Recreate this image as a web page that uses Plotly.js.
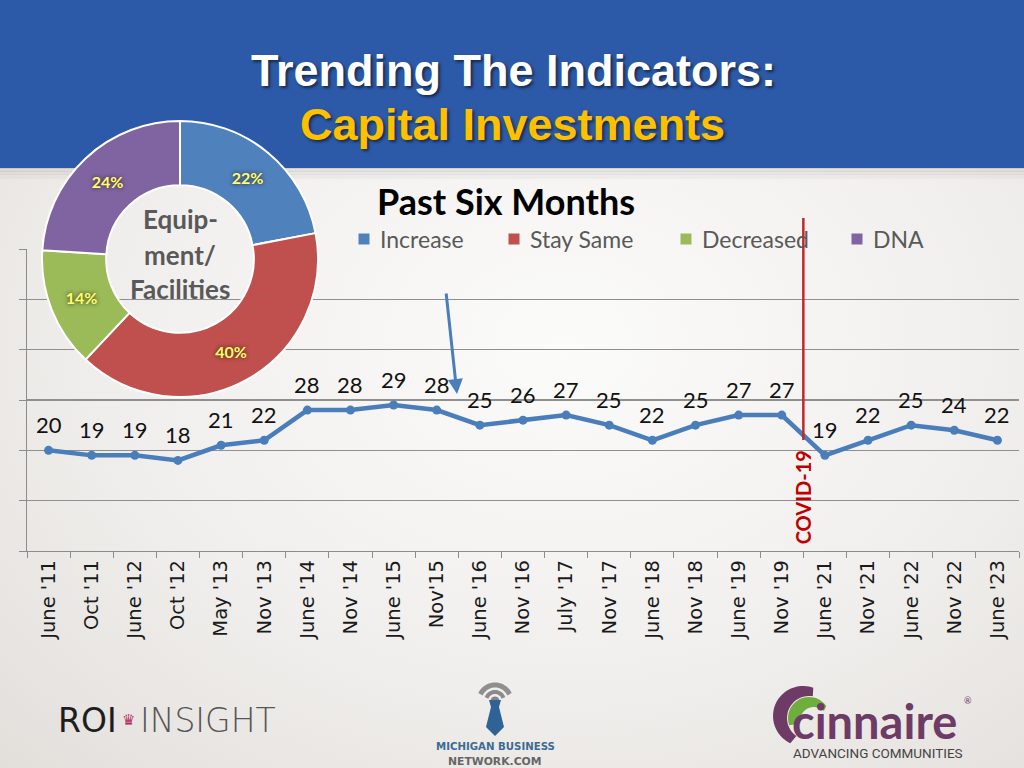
<!DOCTYPE html>
<html>
<head>
<meta charset="utf-8">
<script src="https://cdn.plot.ly/plotly-3.0.1.min.js"></script>
<style>
  html, body { margin:0; padding:0; width:1024px; height:768px; overflow:hidden;
    background: radial-gradient(ellipse at 55% 45%, #fbfbfa 0%, #f1efed 55%, #e2dfdb 100%); }
  #chart { width:1024px; height:768px; }
</style>
</head>
<body>
<div id="chart"></div>
<script>
// ---- Data ----
const periods = ["June '11","Oct '11","June '12","Oct '12","May '13","Nov '13","June '14","Nov '14","June '15","Nov'15",
  "June '16","Nov '16","July '17","Nov '17","June '18","Nov '18","June '19","Nov '19","June '21","Nov '21","June '22","Nov '22","June '23"];
const increaseValues = [20,19,19,18,21,22,28,28,29,28,25,26,27,25,22,25,27,27,19,22,25,24,22];

const pieLabels = ["Increase","Stay Same","Decreased","DNA"];
const pieValues = [22,40,14,24];
const pieColors = ["#4F81BD","#C0504D","#9BBB59","#8064A2"];
const pieCenterLines = ["Equip-","ment/","Facilities"];

const covidAfter = "Nov '19";

// ---- helpers (pixel -> paper) ----
const PX = x => x / 1024;
const PY = y => 1 - y / 768;
function pathPx(pts, close) {
  return pts.map((p, i) => (i ? 'L' : 'M') + PX(p[0]).toFixed(5) + ',' + PY(p[1]).toFixed(5)).join(' ') + (close ? ' Z' : '');
}
function arcPts(cx, cy, r, a0, a1, n) {
  const out = [];
  for (let i = 0; i <= n; i++) {
    const a = (a0 + (a1 - a0) * i / n) * Math.PI / 180;
    out.push([cx + r * Math.cos(a), cy - r * Math.sin(a)]);
  }
  return out;
}
function txt(text, px, py, font, extra) {
  return Object.assign({ text, x:PX(px), y:PY(py), xref:'paper', yref:'paper', xanchor:'center', yanchor:'middle',
    showarrow:false, font }, extra || {});
}

const lineTrace = {
  type: 'scatter',
  mode: 'lines+markers',
  x: periods,
  y: increaseValues,
  line: { color: '#4A7EBB', width: 4.5 },
  marker: { color: '#4A7EBB', size: 9 },
  cliponaxis: false,
  showlegend: false,
  hoverinfo: 'skip'
};

const pieTrace = {
  type: 'pie',
  labels: pieLabels,
  values: pieValues,
  marker: { colors: pieColors, line: { color: '#ffffff', width: 2 } },
  hole: 0.535,
  sort: false,
  direction: 'clockwise',
  rotation: 0,
  textinfo: 'percent',
  textposition: 'inside',
  insidetextorientation: 'horizontal',
  textfont: { family: 'Lato, "Open Sans", sans-serif', size: 16, color: '#FFFF66', weight: 'bold',
              shadow: '0px 0px 4px rgba(40,20,20,0.85)' },
  domain: { x: [PX(42), PX(318)], y: [PY(397), PY(121)] },
  showlegend: false,
  hoverinfo: 'skip'
};

const shapes = [];
// header band
shapes.push({ type:'rect', xref:'paper', yref:'paper', x0:0, x1:1, y0:PY(168), y1:1,
  fillcolor:'#2C5AA8', line:{width:0}, layer:'below' });
for (let i = 0; i < 8; i++) {
  shapes.push({ type:'rect', xref:'paper', yref:'paper', x0:0, x1:1, y0:PY(169 + i*1.5), y1:PY(168 + i*1.5),
    fillcolor:'rgba(120,115,110,' + (0.28 - i*0.033).toFixed(3) + ')', line:{width:0}, layer:'below' });
}
// COVID line
const covidIdx = periods.indexOf(covidAfter) + 0.5;
shapes.push({ type:'line', xref:'x', yref:'paper', x0:covidIdx, x1:covidIdx, y0:PY(440), y1:PY(218),
  line:{ color:'#C0282D', width:2.5 }, layer:'above' });

// Legend (manual, for the donut's categories)
const legendX = [364, 514, 686, 857];
const annotations = [];
const labelFont = 'Lato, "Open Sans", sans-serif';
pieLabels.forEach((lab, i) => {
  shapes.push({ type:'rect', xref:'paper', yref:'paper',
    x0:PX(legendX[i] - 5.5), x1:PX(legendX[i] + 5.5), y0:PY(244.5), y1:PY(233.5),
    fillcolor:pieColors[i], line:{ width:0 } });
  annotations.push(txt(lab, legendX[i] + 14, 239, { family:labelFont, size:23, color:'#595959' }, { xanchor:'left' }));
});

// Michigan Business Network icon
shapes.push({ type:'path', xref:'paper', yref:'paper', path: pathPx(arcPts(495, 701, 16, 25, 155, 20)),
  line:{ color:'#8f8f8f', width:5 } });
shapes.push({ type:'path', xref:'paper', yref:'paper', path: pathPx(arcPts(495, 701, 9, 20, 160, 16)),
  line:{ color:'#8a8a8a', width:4 } });
shapes.push({ type:'path', xref:'paper', yref:'paper', path: pathPx(arcPts(495, 701, 4.5, 0, 180, 12), true),
  fillcolor:'#858585', line:{ width:0 } });
shapes.push({ type:'path', xref:'paper', yref:'paper',
  path: pathPx([[489,700],[501,700],[499,707],[504,727],[495,736],[486,727],[491,707]], true),
  fillcolor:'#2F6396', line:{ width:0 } });
// Cinnaire icon
shapes.push({ type:'path', xref:'paper', yref:'paper',
  path: pathPx(arcPts(803, 716, 30, 70, 245, 28).concat(arcPts(809, 718, 22, 235, 80, 28)), true),
  fillcolor:'#6E3B67', line:{ width:0 } });
shapes.push({ type:'path', xref:'paper', yref:'paper',
  path: pathPx(arcPts(809, 718, 21, 35, 200, 24).concat(arcPts(814, 721, 14, 190, 45, 24)), true),
  fillcolor:'#6DAE3C', line:{ width:0 } });

const titleFont = 'Liberation Sans, Arial, sans-serif';
annotations.push(
  txt('Trending The Indicators:', 513, 70,
    { family:titleFont, size:45, color:'#ffffff', weight:'bold', shadow:'2px 2px 3px rgba(0,0,0,0.55)' }),
  txt('Capital Investments', 512, 124,
    { family:titleFont, size:45, color:'#FFC000', weight:'bold', shadow:'2px 2px 3px rgba(0,0,0,0.55)' }),
  txt('<b>Past Six Months</b>', 506, 201, { family:labelFont, size:36, color:'#000000' }),
  // arrow
  { x:PX(457), y:PY(394), xref:'paper', yref:'paper', ax:-11, ay:-102, showarrow:true,
    arrowcolor:'#4A7EBB', arrowwidth:3, arrowhead:2, arrowsize:1, text:'' },
  // COVID label
  { text:'<b>COVID-19</b>', x:covidIdx, y:PY(497), xref:'x', yref:'paper', xanchor:'center', yanchor:'middle',
    textangle:-90, showarrow:false, font:{ family:labelFont, size:20, color:'#C00000' } },
  // Logos text
  txt('ROI', 56, 720, { family:'DejaVu Sans, sans-serif', size:33, color:'#1e1e1e', weight:400 }, { xanchor:'left' }),
  txt('♛', 128, 720, { family:'DejaVu Sans, sans-serif', size:15, color:'#B02A55' }),
  txt('INSIGHT', 138, 720, { family:'DejaVu Sans, sans-serif', size:33, color:'#555555', weight:200 }, { xanchor:'left' }),
  txt('MICHIGAN BUSINESS', 495, 746, { family:'DejaVu Sans, sans-serif', size:10.2, color:'#3C6A95', weight:'bold' }),
  txt('NETWORK.COM', 495, 761, { family:'DejaVu Sans, sans-serif', size:10.8, color:'#666666', weight:'bold' }),
  txt('cinnaire', 790, 721, { family:labelFont, size:47, color:'#6E3B67', weight:'bold' }, { xanchor:'left' }),
  txt('®', 968, 700, { family:'Lato, sans-serif', size:9, color:'#6E3B67' }),
  txt('ADVANCING COMMUNITIES', 878, 753, { family:'Liberation Sans Narrow, Roboto, sans-serif', size:13.5, color:'#444444' })
);
// donut center text
const centerYs = [219, 255, 289];
pieCenterLines.forEach((t, i) => annotations.push(
  txt('<b>' + t + '</b>', 180, centerYs[i], { family:labelFont, size:26, color:'#595959' })));
// data labels, placed through the axes
periods.forEach((p, i) => annotations.push({
  text: String(increaseValues[i]), x: p, y: increaseValues[i], xref:'x', yref:'y',
  xanchor:'center', yanchor:'middle', yshift:26, showarrow:false,
  font:{ family:labelFont, size:22, color:'#111111' } }));

const layout = {
  width:1024, height:768,
  margin:{ l:0, r:0, t:0, b:0, autoexpand:false },
  paper_bgcolor:'rgba(0,0,0,0)',
  plot_bgcolor:'rgba(0,0,0,0)',
  xaxis:{
    domain:[PX(27), PX(1019)], type:'category', range:[-0.5, periods.length - 0.5],
    showgrid:false, zeroline:false, showline:true, linecolor:'#8c8c8c', linewidth:1.2,
    ticks:'outside', tickson:'boundaries', ticklen:6, tickcolor:'#8c8c8c', automargin:false,
    tickangle:-90, tickfont:{ family:'DejaVu Sans, sans-serif', size:19.5, color:'#1a1a1a' },
    fixedrange:true
  },
  yaxis:{
    domain:[PY(551), PY(249)], range:[0,60], dtick:10, automargin:false,
    showgrid:true, gridcolor:'#8f8f8f', gridwidth:1.2, zeroline:false,
    showline:true, linecolor:'#8c8c8c', linewidth:1.2,
    ticks:'outside', ticklen:7, tickcolor:'#8c8c8c', showticklabels:false, fixedrange:true
  },
  shapes:shapes,
  annotations:annotations,
  showlegend:false
};

Plotly.newPlot('chart', [lineTrace, pieTrace], layout, { staticPlot:true, displayModeBar:false });
</script>
</body>
</html>
